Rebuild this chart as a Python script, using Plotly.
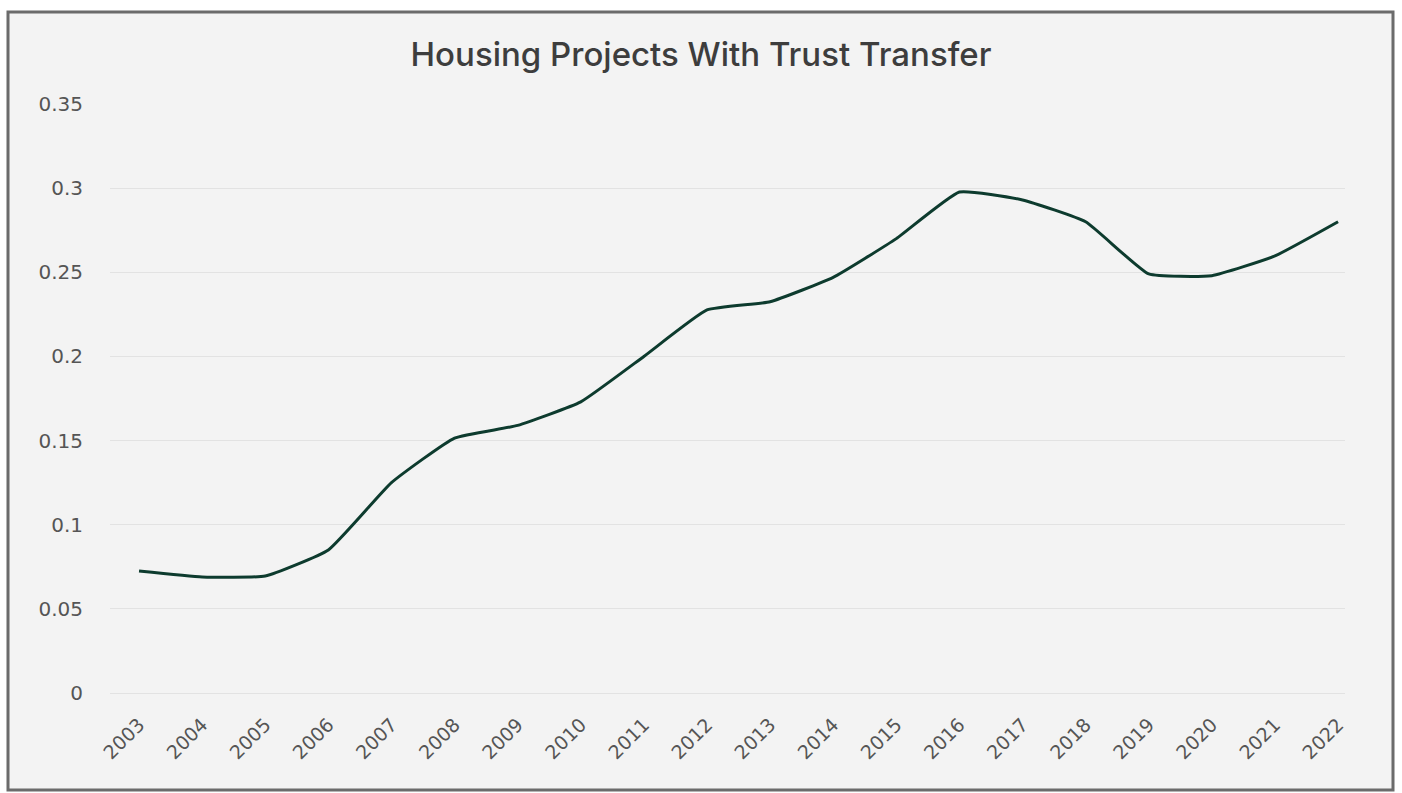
import plotly.graph_objects as go

years = [str(y) for y in range(2003, 2023)]
values = [0.0725, 0.069, 0.0695, 0.085, 0.125, 0.1515, 0.159, 0.173, 0.200, 0.2276,
          0.2325, 0.247, 0.270, 0.2977, 0.293, 0.280, 0.249, 0.248, 0.2597, 0.280]
y_ticks = [0, 0.05, 0.1, 0.15, 0.2, 0.25, 0.3, 0.35]
y_tick_labels = ["0", "0.05", "0.1", "0.15", "0.2", "0.25", "0.3", "0.35"]

W, H = 1402, 793
L, R, T, B = 110, 57, 104, 100
pw, ph = W - L - R, H - T - B

fig = go.Figure()
fig.add_trace(go.Scatter(
    x=list(range(len(years))), y=values, mode="lines",
    line=dict(color="#0d3b2e", width=3, shape="spline", smoothing=0.4),
    hoverinfo="skip", showlegend=False,
))

fig.add_shape(
    type="rect", xref="paper", yref="paper", layer="below",
    x0=(8 - L) / pw, x1=(1393 - L) / pw,
    y0=((H - B) - 790) / ph, y1=((H - B) - 12) / ph,
    fillcolor="#f3f3f3", line=dict(color="#6b6b6b", width=3),
)

fig.update_layout(
    width=W, height=H,
    margin=dict(l=L, r=R, t=T, b=B),
    paper_bgcolor="white", plot_bgcolor="rgba(0,0,0,0)",
    title=dict(text="Housing Projects With Trust Transfer", x=0.5, xanchor="center",
               xref="container", yref="container", y=1 - 54 / H, yanchor="middle",
               font=dict(family="Inter", size=33, color="#3d3d3d", weight=500)),
    font=dict(family="DejaVu Sans", color="#555555"),
)
fig.update_xaxes(
    range=[-0.46, 19.11], tickmode="array", tickvals=list(range(len(years))),
    ticktext=years, tickangle=-45, showgrid=False, zeroline=False, showline=False,
    tickfont=dict(family="DejaVu Sans", size=19, color="#555555"), ticklabelstandoff=16,
)
fig.update_yaxes(
    range=[0, 0.35], tickmode="array", tickvals=y_ticks, ticktext=y_tick_labels,
    showgrid=True, gridcolor="#e2e2e2", gridwidth=1,
    zeroline=True, zerolinecolor="#e2e2e2", zerolinewidth=1, showline=False,
    tickfont=dict(family="DejaVu Sans", size=20, color="#555555"), ticklabelstandoff=26,
)

fig.write_html("out.html")
